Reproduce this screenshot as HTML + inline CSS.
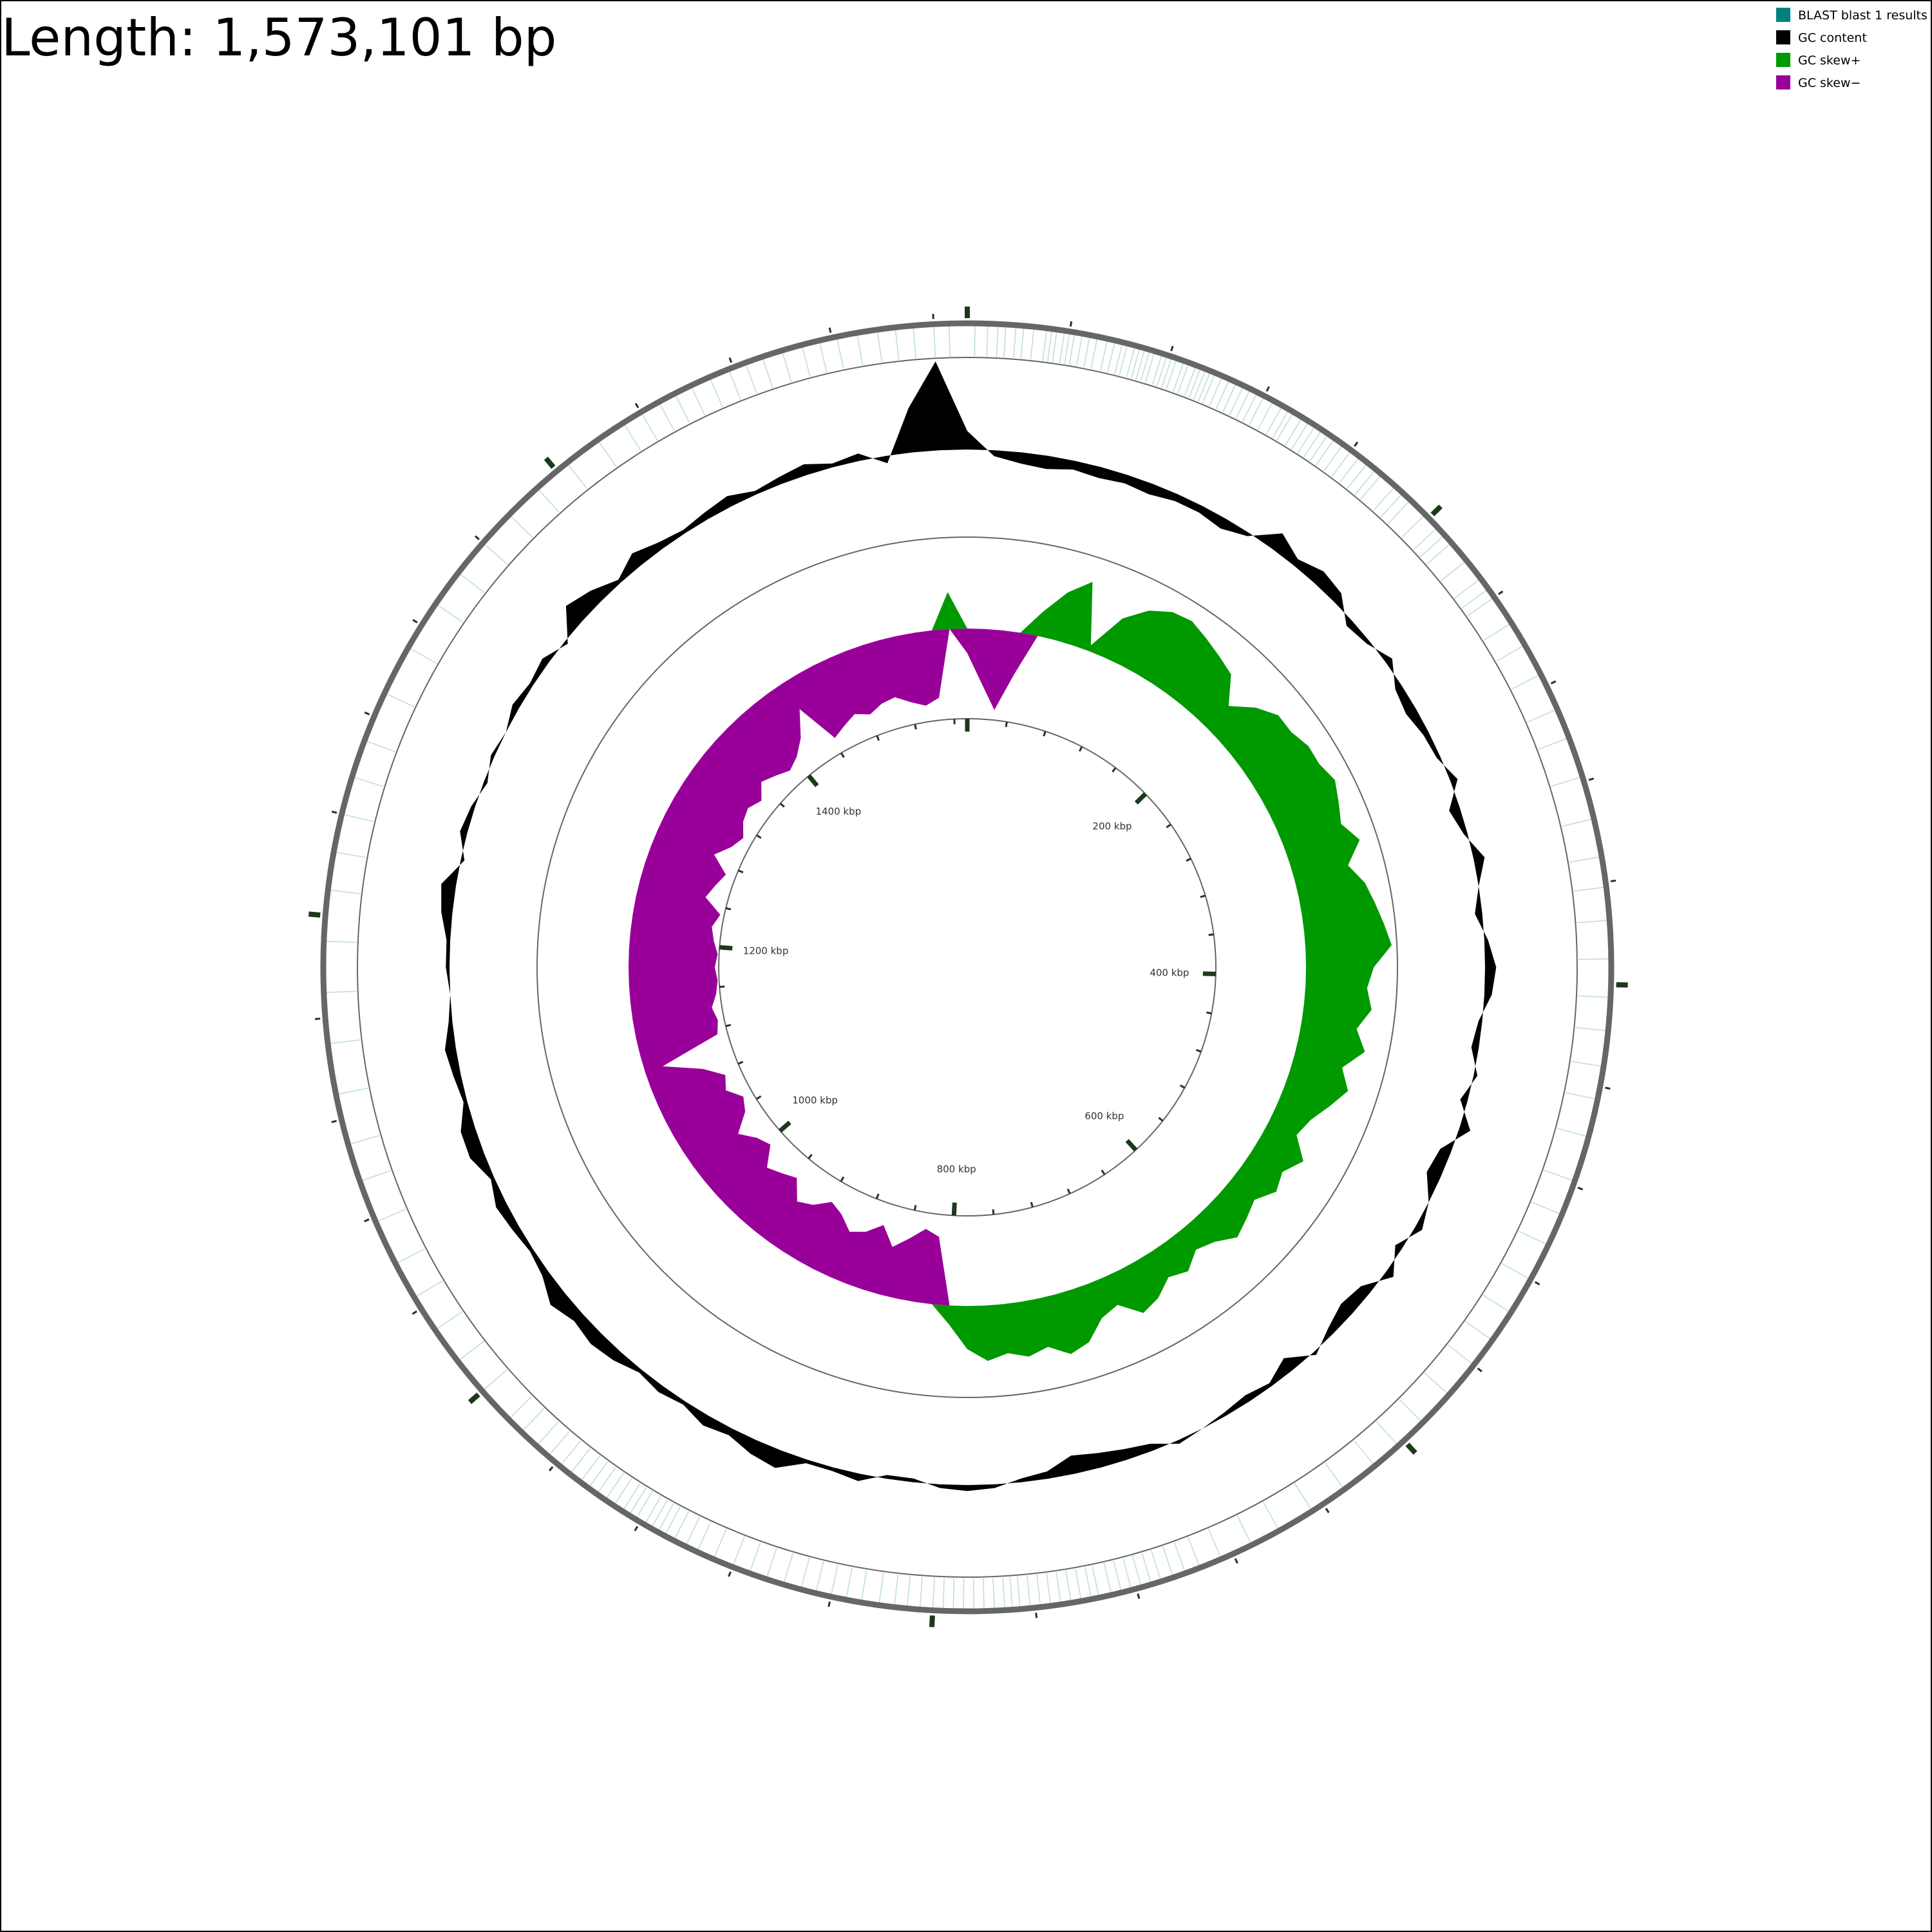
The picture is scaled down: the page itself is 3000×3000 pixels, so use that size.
<!DOCTYPE html>
<html><head><meta charset="utf-8"><style>
html,body{margin:0;padding:0;background:#fff}
#wrap{position:relative;width:3000px;height:3000px;box-sizing:border-box;border:2px solid #000;overflow:hidden}
svg{position:absolute;left:0;top:0}
</style></head><body>
<div id="wrap">
<svg id="plot" width="3000" height="3000" viewBox="0 0 3000 3000">
<text x="0" y="84" font-family="'DejaVu Sans','Liberation Sans',sans-serif" font-size="80" fill="#000">Length: 1,573,101 bp</text>
<g>
<g><rect x="2756" y="10" width="22" height="22" fill="#008080"/><text x="2790" y="28" font-family="'DejaVu Sans','Liberation Sans',sans-serif" font-size="19">BLAST blast 1 results</text></g>
<g><rect x="2756" y="45" width="22" height="22" fill="#000"/><text x="2790" y="63" font-family="'DejaVu Sans','Liberation Sans',sans-serif" font-size="19">GC content</text></g>
<g><rect x="2756" y="80" width="22" height="22" fill="#009900"/><text x="2790" y="98" font-family="'DejaVu Sans','Liberation Sans',sans-serif" font-size="19">GC skew+</text></g>
<g><rect x="2756" y="115" width="22" height="22" fill="#990099"/><text x="2790" y="133" font-family="'DejaVu Sans','Liberation Sans',sans-serif" font-size="19">GC skew−</text></g>
</g>
</svg>
</div>
<script>
// ---- data ----
const genomeLength = 1573101;
const majorTickKbp = [0, 200, 400, 600, 800, 1000, 1200, 1400];
const tickLabels = ["", "200 kbp", "400 kbp", "600 kbp", "800 kbp", "1000 kbp", "1200 kbp", "1400 kbp"];
const minorStepKbp = 40;
// GC content deviation, sampled every 3 degrees starting at 0 (top)
const gcContent = [25,-8,-15,-18,-12,-15,-12,-15,-10,-10,-15,-5,25,10,20,15,-10,-5,10,-10,
 -15,-8,-5,10,-15,-5,15,0,-10,5,15,10,-5,-10,5,-10,15,-15,-20,0,
 10,-10,12,-15,-20,-10,5,-20,-5,-10,-5,0,5,-10,-15,-20,-25,-10,-5,5,
 8,5,-5,-5,10,5,5,25,20,10,15,5,10,5,15,20,15,25,10,5,
 10,15,5,20,20,5,10,15,5,0,5,5,15,20,-5,10,5,-5,5,0,
 10,5,10,-5,30,20,5,20,10,5,10,15,5,10,15,5,10,-10,60,120];
// GC skew, sampled every 3 degrees starting at 0 (top)
const gcSkew = [-20,-45,-65,-35,20,40,54,5,35,50,58,60,55,50,45,25,40,50,50,55,
 55,60,55,50,60,45,55,60,65,70,55,50,55,45,55,40,50,40,30,25,
 40,30,35,25,30,35,25,20,30,25,35,40,25,30,45,50,40,45,40,45,
 35,15,-55,-60,-50,-40,-55,-45,-40,-50,-55,-45,-40,-55,-50,-45,-60,-55,-45,-60,
 -65,-55,-60,-45,-15,-65,-68,-65,-70,-72,-70,-72,-68,-65,-70,-55,-60,-65,-50,-60,
 -65,-58,-55,-60,-50,-55,-60,-55,-45,-25,-60,-55,-50,-55,-50,-48,-55,-60,-55,30];
// BLAST hit positions (kbp)
const blastHits = [3,8,12,15,19,22,26,31,33,35,38,40,42,45,48,51,55,58,61,63,66,68,70,72,74,77,79,81,83,86,88,91,93,95,97,99,102,105,108,111,114,117,120,124,128,131,133,137,140,143,146,149,152,156,160,164,168,172,175,182,186,190,198,205,209,213,222,231,236,240,252,262,275,290,302,318,335,350,362,375,390,405,418,432,445,460,478,492,505,520,535,548,560,575,590,603,615,630,645,660,672,685,694,700,705,710,714,718,722,726,730,735,738,742,746,750,754,758,762,766,769,772,776,780,784,788,792,796,800,805,810,815,821,828,834,840,846,852,859,866,873,880,888,895,900,905,909,912,915,918,922,925,928,932,936,940,944,948,953,958,964,970,978,985,1000,1015,1030,1045,1060,1078,1095,1110,1130,1150,1170,1190,1210,1225,1240,1255,1270,1290,1310,1330,1345,1360,1375,1390,1405,1420,1432,1440,1448,1455,1462,1470,1478,1485,1492,1500,1508,1515,1522,1530,1538,1545,1552,1560,1566];

// ---- geometry ----
const NS = "http://www.w3.org/2000/svg";
const svg = document.getElementById("plot");
const cx = 1500, cy = 1500, S = 1.913, GCS = 1.15;
const R_OUT = 1000, R_BLAST_IN = 947, R_GC = 804, R_SKEW_OUT = 668, R_SKEW = 526, R_IN = 386;
function angOfKbp(k){ return k*1000/genomeLength*2*Math.PI; }
function angOfIdx(i,n){ return i/n*2*Math.PI; }
function pt(a,r){ return [cx + r*Math.sin(a), cy - r*Math.cos(a)]; }
function el(tag, attrs){ const e=document.createElementNS(NS,tag); for(const k in attrs) e.setAttribute(k,attrs[k]); svg.appendChild(e); return e; }

// BLAST ring
const gB = document.createElementNS(NS,"g"); svg.appendChild(gB);


blastHits.forEach(k=>{
  const a = angOfKbp(k);
  const p1 = pt(a,R_BLAST_IN+2), p2 = pt(a,R_OUT-4);
  const l = document.createElementNS(NS,"line");
  l.setAttribute("x1",p1[0]);l.setAttribute("y1",p1[1]);l.setAttribute("x2",p2[0]);l.setAttribute("y2",p2[1]);
  l.setAttribute("stroke","#5aa8a8");l.setAttribute("stroke-width","1.5");l.setAttribute("stroke-opacity","0.4");
  
  
  gB.appendChild(l);
});

// circles
const c1 = el("circle",{cx,cy,r:R_OUT,fill:"none",stroke:"#666",["stroke-width"]:9});


[[R_BLAST_IN,'blast-inner-circle'],[R_SKEW_OUT,'skew-outer-circle'],[R_IN,'inner-scale-circle']].forEach(([r,n])=>{
  const c = el("circle",{cx,cy,r,fill:"none",stroke:"#666",["stroke-width"]:2});
  
  
});

function areaPath(vals, base, fn, sc){
  const n = vals.length; let d = "";
  for(let i=0;i<=n;i++){ const v = fn(vals[i%n]); const p = pt(angOfIdx(i,n), base + v*sc); d += (i?"L":"M")+p[0].toFixed(1)+","+p[1].toFixed(1); }
  for(let i=n;i>=0;i--){ const p = pt(angOfIdx(i,n), base); d += "L"+p[0].toFixed(1)+","+p[1].toFixed(1); }
  return d+"Z";
}
const gc = el("path",{d:areaPath(gcContent,R_GC,v=>v,GCS),fill:"#000","fill-rule":"evenodd"});


const sp = el("path",{d:areaPath(gcSkew,R_SKEW,v=>Math.max(v,0),S),fill:"#009900","fill-rule":"evenodd"});


const sn = el("path",{d:areaPath(gcSkew,R_SKEW,v=>Math.min(v,0),S),fill:"#990099","fill-rule":"evenodd"});



// ticks
for(let k=0;k<genomeLength/1000;k+=minorStepKbp){
  const major = k%200===0;
  const a = angOfKbp(k);
  let p1=pt(a,R_OUT+8), p2=pt(a,major?R_OUT+26:R_OUT+16);
  const t = el("line",{x1:p1[0],y1:p1[1],x2:p2[0],y2:p2[1],stroke:"#1a3a1a","stroke-width":major?8:3});
  
  
  p1=pt(a,R_IN); p2=pt(a,major?R_IN-20:R_IN-8);
  const t2 = el("line",{x1:p1[0],y1:p1[1],x2:p2[0],y2:p2[1],stroke:"#1a3a1a","stroke-width":major?7:3});
  
  
}
majorTickKbp.forEach((k,i)=>{
  if(!tickLabels[i]) return;
  const p = pt(angOfKbp(k), 314);
  const t = el("text",{x:p[0],y:p[1]+5,"text-anchor":"middle","font-family":"'DejaVu Sans','Liberation Sans',sans-serif","font-size":15,fill:"#333"});
  t.textContent = tickLabels[i];
  
  
});
</script>
</body></html>
